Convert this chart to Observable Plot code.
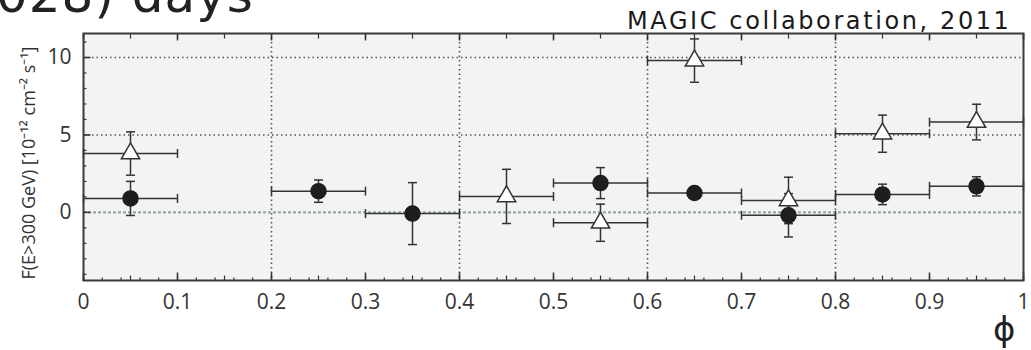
<!DOCTYPE html>
<html>
<head>
<meta charset="utf-8">
<script src="https://cdn.jsdelivr.net/npm/d3@7"></script>
<script src="https://cdn.jsdelivr.net/npm/@observablehq/plot@0.6"></script>
<style>
  html, body { margin: 0; padding: 0; background: #ffffff; }
  #wrap { position: relative; width: 1031px; height: 350px; overflow: hidden; }
  #bigtitle { position: absolute; left: -4px; top: -30px; font-family: "DejaVu Sans", sans-serif; font-size: 50px; line-height: 1; color: #222; letter-spacing: 1px; white-space: nowrap; }
  #credit { position: absolute; left: 627px; top: 9px; font-family: "DejaVu Sans", sans-serif; font-size: 24px; line-height: 1; color: #1a1a1a; letter-spacing: 2.6px; white-space: nowrap; }
  #phi { position: absolute; left: 993px; top: 315px; font-family: "DejaVu Sans", sans-serif; font-size: 34px; line-height: 0.85; color: #222; }
  #ylabel { position: absolute; left: 28px; top: 163px; transform: translate(-50%, -50%) rotate(-90deg); font-family: "Open Sans", sans-serif; font-size: 18px; line-height: 1; color: #333; white-space: nowrap; }
  svg { position: absolute; left: 0; top: 0; }
</style>
</head>
<body>
<div id="wrap">
  <div id="bigtitle">028) days</div>
  <div id="chart"></div>
  <div id="credit">MAGIC collaboration, 2011</div>
  <div id="ylabel"></div>
  <div id="phi">ϕ</div>
</div>
<script>
// Filled circles (series 1): phase-bin centre, flux, symmetric error
const circlePhase = [0.05, 0.25, 0.35, 0.55, 0.65, 0.75, 0.85, 0.95];
const circleFlux  = [0.90, 1.37, -0.08, 1.89, 1.25, -0.19, 1.16, 1.68];
const circleErr   = [1.10, 0.72, 2.00, 1.00, 0.30, 1.40, 0.66, 0.62];

// Open triangles (series 2)
const trianglePhase = [0.05, 0.45, 0.55, 0.65, 0.75, 0.85, 0.95];
const triangleFlux  = [3.80, 1.03, -0.67, 9.80, 0.77, 5.08, 5.83];
const triangleErr   = [1.40, 1.75, 1.20, 1.40, 1.50, 1.20, 1.15];

// half-width of each phase bin
const binHalfWidth = 0.05;

const xTicks = [0, 0.1, 0.2, 0.3, 0.4, 0.5, 0.6, 0.7, 0.8, 0.9, 1];
const xTickLabels = ["0", "0.1", "0.2", "0.3", "0.4", "0.5", "0.6", "0.7", "0.8", "0.9", "1"];
const yTicks = [0, 5, 10];
const yTickLabels = ["0", "5", "10"];
const xGrid = [0.2, 0.4, 0.6, 0.8];
const yGrid = [5, 10];
const yLabel = "F(E>300 GeV) [10⁻¹² cm⁻² s⁻¹]";
document.getElementById("ylabel").textContent = yLabel;

const xMinor = d3.range(0, 51).map(i => i / 50);
const xMid = d3.range(0, 21).map(i => i / 20);
const yMinor = d3.range(-4, 12);

const circles = circlePhase.map((x, i) => ({x, y: circleFlux[i], e: circleErr[i]}));
const triangles = trianglePhase.map((x, i) => ({x, y: triangleFlux[i], e: triangleErr[i]}));
const all = circles.concat(triangles);

const seg = (dx, dy) => ({draw(ctx) { ctx.moveTo(0, 0); ctx.lineTo(dx, dy); }});
const hcap = {draw(ctx) { ctx.moveTo(-4.5, 0); ctx.lineTo(4.5, 0); }};
const vcap = {draw(ctx) { ctx.moveTo(0, -4.5); ctx.lineTo(0, 4.5); }};

const ink = "#333";

const chart = Plot.plot({
  width: 1031,
  height: 350,
  marginLeft: 83,
  marginRight: 8,
  marginTop: 33,
  marginBottom: 70,
  style: {background: "transparent", fontFamily: "'Open Sans', sans-serif"},
  x: {domain: [0, 1]},
  y: {domain: [-4.4, 11.55]},
  marks: [
    Plot.frame({fill: "#f2f3f3", stroke: null}),
    Plot.ruleX(xGrid, {stroke: "#555", strokeWidth: 1.6, strokeDasharray: "1.5,3"}),
    Plot.ruleY(yGrid, {stroke: "#555", strokeWidth: 1.6, strokeDasharray: "1.5,3"}),
    Plot.ruleY([0], {stroke: "#9aa7a3", strokeWidth: 2.2, strokeDasharray: "3,2"}),
    // horizontal (phase-bin) error bars
    Plot.ruleY(all, {y: "y", x1: d => d.x - binHalfWidth, x2: d => d.x + binHalfWidth, stroke: ink, strokeWidth: 1.5}),
    Plot.dot(all, {x: d => d.x - binHalfWidth, y: "y", symbol: vcap, fill: "none", stroke: ink, strokeWidth: 1.5}),
    Plot.dot(all, {x: d => d.x + binHalfWidth, y: "y", symbol: vcap, fill: "none", stroke: ink, strokeWidth: 1.5}),
    // vertical flux error bars
    Plot.ruleX(all, {x: "x", y1: d => d.y - d.e, y2: d => d.y + d.e, stroke: ink, strokeWidth: 1.5}),
    Plot.dot(all, {x: "x", y: d => d.y - d.e, symbol: hcap, fill: "none", stroke: ink, strokeWidth: 1.5}),
    Plot.dot(all, {x: "x", y: d => d.y + d.e, symbol: hcap, fill: "none", stroke: ink, strokeWidth: 1.5}),
    // markers
    Plot.dot(circles, {x: "x", y: "y", r: 7.5, fill: "#1e1e1e", stroke: "#1e1e1e"}),
    Plot.dot(triangles, {x: "x", y: "y", r: 6.8, symbol: "triangle", fill: "#ffffff", stroke: ink, strokeWidth: 1.5}),
    // inward ticks
    Plot.dot(xMinor, {x: d => d, frameAnchor: "bottom", symbol: seg(0, -3), fill: "none", stroke: ink, strokeWidth: 1.2}),
    Plot.dot(xMid, {x: d => d, frameAnchor: "bottom", symbol: seg(0, -5), fill: "none", stroke: ink, strokeWidth: 1.2}),
    Plot.dot(xTicks, {x: d => d, frameAnchor: "bottom", symbol: seg(0, -8), fill: "none", stroke: ink, strokeWidth: 1.5}),
    Plot.dot(xMid, {x: d => d, frameAnchor: "top", symbol: seg(0, 5), fill: "none", stroke: ink, strokeWidth: 1.2}),
    Plot.dot(xTicks, {x: d => d, frameAnchor: "top", symbol: seg(0, 7), fill: "none", stroke: ink, strokeWidth: 1.5}),
    Plot.dot(yMinor, {y: d => d, frameAnchor: "left", symbol: seg(3, 0), fill: "none", stroke: ink, strokeWidth: 1.2}),
    Plot.dot(yTicks, {y: d => d, frameAnchor: "left", symbol: seg(7, 0), fill: "none", stroke: ink, strokeWidth: 1.5}),
    // tick labels
    Plot.axisX({anchor: "bottom", ticks: xTicks, tickSize: 0, tickPadding: 14, fontSize: 21, fill: "#333",
      tickFormat: d => xTickLabels[xTicks.indexOf(d)], label: null}),
    Plot.axisY({anchor: "left", ticks: yTicks, tickSize: 0, tickPadding: 12, fontSize: 21, fill: "#333",
      tickFormat: d => yTickLabels[yTicks.indexOf(d)], label: null}),
    Plot.frame({stroke: "#3a3a3a", strokeWidth: 2})
  ]
});
document.getElementById("chart").appendChild(chart);
</script>
</body>
</html>
